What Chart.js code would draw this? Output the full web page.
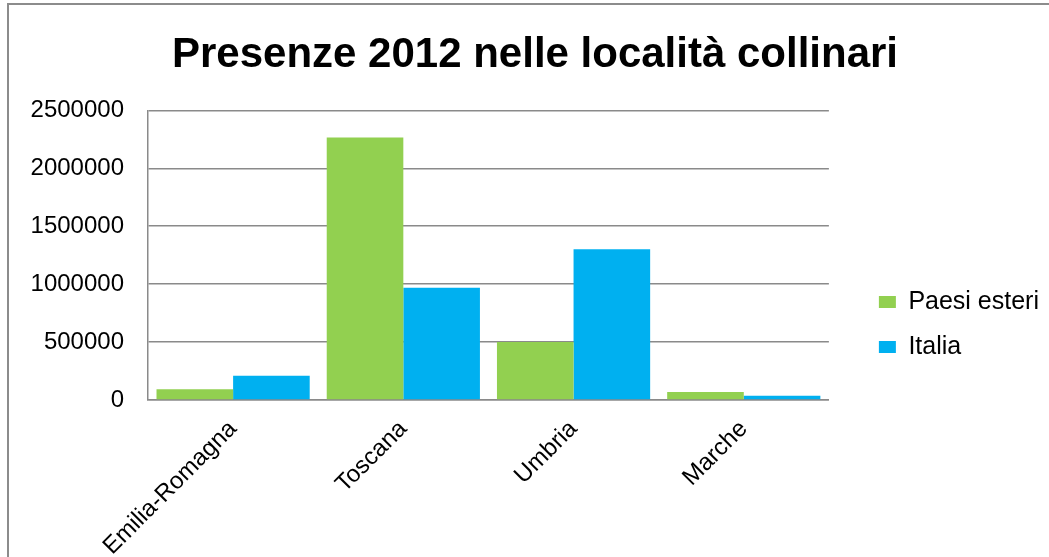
<!DOCTYPE html>
<html>
<head>
<meta charset="utf-8">
<title>Presenze 2012 nelle località collinari</title>
<script src="https://cdn.jsdelivr.net/npm/chart.js@4.4.1/dist/chart.umd.min.js"></script>
<style>
  html, body { margin: 0; padding: 0; background: #fff; overflow: hidden; }
  #wrap { position: relative; width: 1049px; height: 557px; }
</style>
</head>
<body>
<div id="wrap"><canvas id="chart"></canvas></div>
<script>
// Presenze turistiche 2012 nelle località collinari, per regione
const regions = ['Emilia-Romagna', 'Toscana', 'Umbria', 'Marche'];
const paesiEsteri = [92000, 2267000, 500000, 69000];
const italia = [210000, 968000, 1302000, 37000];
const seriesNames = ['Paesi esteri', 'Italia'];
const yMin = 0;
const yMax = 2500000;
const yStep = 500000;

const FONT = 'Liberation Sans, Arial, sans-serif';
const GRID = '#8a8a8a';
const PAD_LEFT = 21;
const LEGEND_GAP = 30;

// outer frame of the chart object (top and left edges)
const framePlugin = {
  id: 'frame',
  beforeDraw(chart) {
    const ctx = chart.ctx;
    ctx.save();
    ctx.fillStyle = '#ffffff';
    ctx.fillRect(0, 0, chart.width, chart.height);
    ctx.strokeStyle = '#8c8c8c';
    ctx.lineWidth = 2;
    ctx.beginPath();
    ctx.moveTo(8, chart.height);
    ctx.lineTo(8, 4);
    ctx.lineTo(chart.width, 4);
    ctx.stroke();
    ctx.restore();
  }
};

// empty layout box that keeps some white space between plot area and legend
const legendGapPlugin = {
  id: 'legendGap',
  beforeInit(chart) {
    Chart.layouts.addBox(chart, {
      position: 'right',
      weight: 0,
      fullSize: false,
      options: { stackWeight: 1 },
      left: 0, top: 0, right: 0, bottom: 0, width: 0, height: 0,
      isHorizontal() { return false; },
      getPadding() { return { top: 0, left: 0, right: 0, bottom: 0 }; },
      update(maxWidth, maxHeight) { this.width = LEGEND_GAP; this.height = maxHeight; },
      draw() {}
    });
  }
};

new Chart(document.getElementById('chart'), {
  type: 'bar',
  data: {
    labels: regions,
    datasets: [
      { label: seriesNames[0], data: paesiEsteri, backgroundColor: '#92D050', borderWidth: 0 },
      { label: seriesNames[1], data: italia, backgroundColor: '#00B0F0', borderWidth: 0 }
    ]
  },
  options: {
    responsive: true,
    maintainAspectRatio: false,
    animation: false,
    devicePixelRatio: 1,
    layout: { padding: { left: PAD_LEFT, right: 0, top: 0, bottom: 0 } },
    datasets: { bar: { categoryPercentage: 0.9, barPercentage: 1.0 } },
    plugins: {
      title: {
        display: true,
        text: 'Presenze 2012 nelle località collinari',
        color: '#000',
        font: { family: FONT, size: 42, weight: 'bold' },
        padding: { top: 30, bottom: 30 }
      },
      legend: {
        position: 'right',
        maxWidth: 220,
        title: { display: true, text: '', font: { size: 10 }, padding: { top: 40, bottom: 40 } },
        labels: {
          color: '#000',
          font: { family: FONT, size: 25 },
          boxWidth: 17,
          boxHeight: 12,
          padding: 20
        }
      },
      tooltip: { enabled: false }
    },
    scales: {
      x: {
        grid: { display: false, drawTicks: false },
        border: { color: GRID, width: 1.5 },
        ticks: {
          color: '#000',
          font: { family: FONT, size: 24 },
          minRotation: 45,
          maxRotation: 45,
          padding: 15
        },
        afterFit(scale) { scale.height = 157; }
      },
      y: {
        min: yMin,
        max: yMax,
        grid: { color: GRID, lineWidth: 1.5, drawTicks: false },
        border: { color: GRID, width: 1.5 },
        ticks: {
          stepSize: yStep,
          color: '#000',
          font: { family: FONT, size: 24 },
          padding: 24,
          callback: (v) => String(v)
        },
        afterFit(scale) { scale.width = 148 - PAD_LEFT; }
      }
    }
  },
  plugins: [framePlugin, legendGapPlugin]
});
</script>
</body>
</html>
